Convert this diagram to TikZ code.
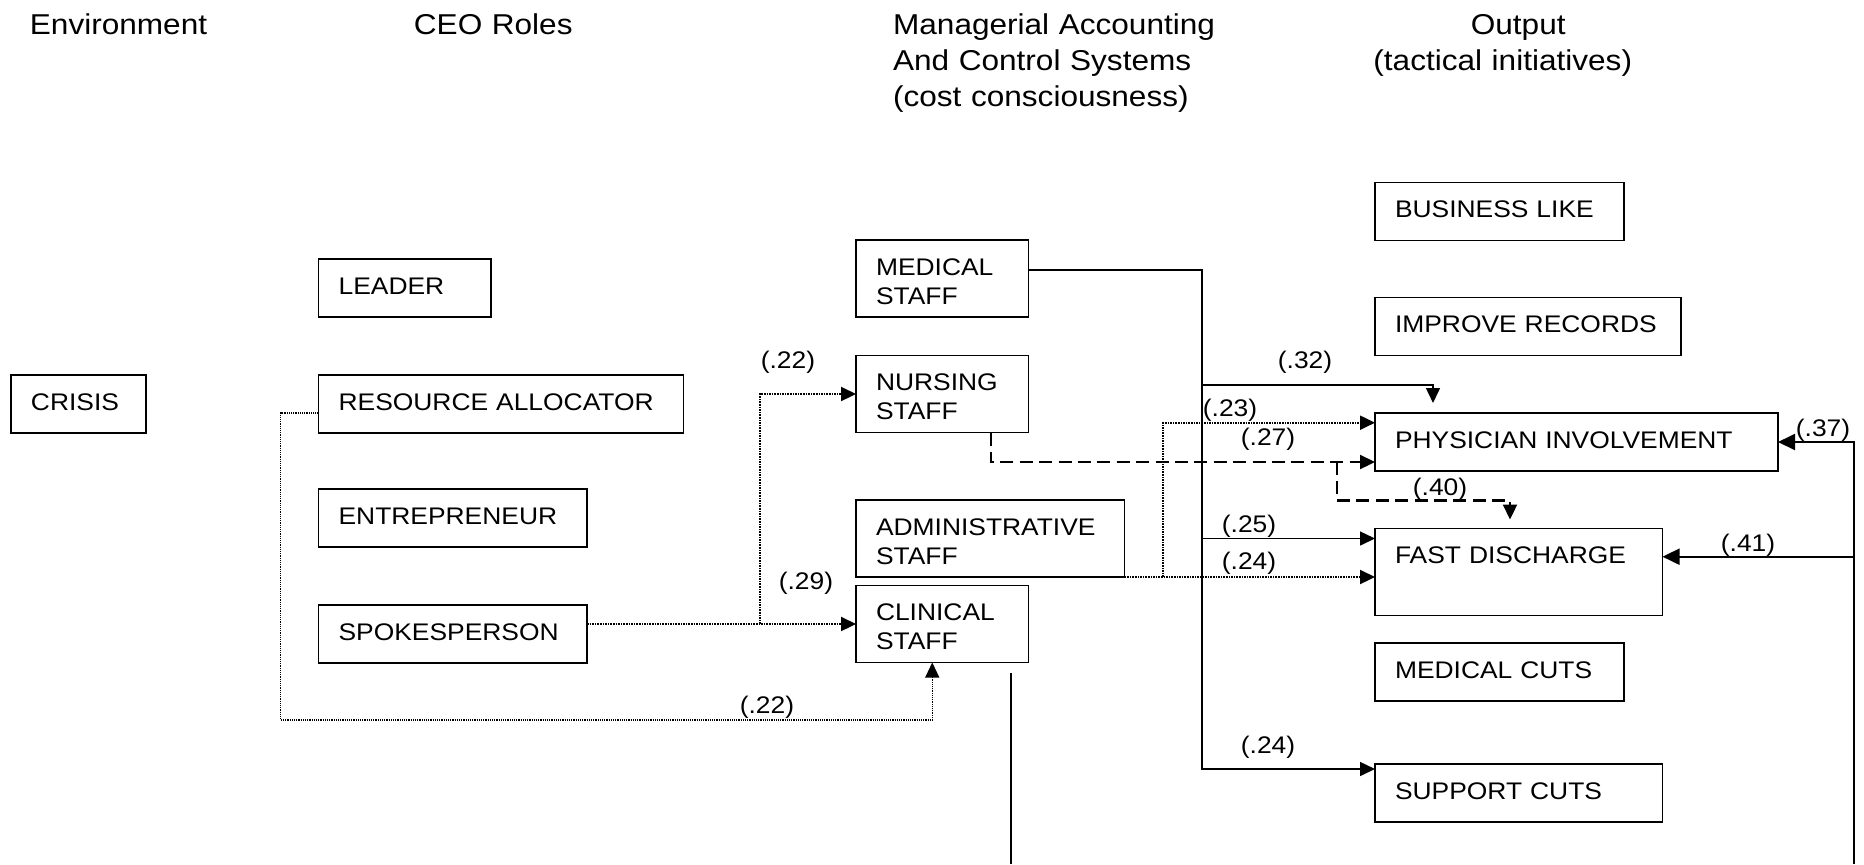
\documentclass[tikz,border=0pt]{standalone}
\usepackage{fontspec}
\setmainfont{Liberation Sans}[FakeStretch=1.1]
\usepackage{tikz}
\usetikzlibrary{arrows.meta}
\tikzset{
  >={Triangle[length=7.5pt,width=7pt]},
  every node/.append style={font=\fontsize{12}{14.5}\selectfont},
}
\tikzset{
  box/.style={draw, line width=0.85pt, anchor=north west, outer sep=0pt,
              inner xsep=10pt, inner ysep=8.5pt, align=left,
              text height=9pt, text depth=3pt},
  twoline/.style={text depth=12.5pt},
  coef/.style={inner sep=0pt}
}

\begin{document}
\begin{tikzpicture}[x=0.5pt, y=-0.5pt,
  heading/.style={anchor=base west, inner sep=0pt, align=left, text width=250pt,
                  font=\fontsize{14.35}{17.9}\selectfont},
  plainlink/.style={line width=0.75pt},
  heavylink/.style={line width=1pt, -{Triangle[length=8.5pt,width=8pt]}},
  dashlink/.style={line width=1.1pt, dash pattern=on 6.5pt off 3.2pt},
  dotlink/.style={line width=1.1pt, dash pattern=on 0.8pt off 0.5pt},
  thindot/.style={line width=0.6pt, dash pattern=on 0.6pt off 0.5pt}
]
\path[use as bounding box, fill=white] (0,0) rectangle (1864,864);

% Column headings
\node[heading] (henv) at (29.5,34.5) {Environment};
\node[heading] (hceo) at (413.5,34.5) {CEO Roles};
\node[heading] (hmacs) at (892.7,34.5) {Managerial Accounting\\And Control Systems\\(cost consciousness)};
\node[heading] (hout) at (1373,34.5) {\hspace*{48.7pt}Output\\(tactical initiatives)};

% Environment and CEO roles
\node[box, text width=47.5pt] (crisis) at (11,375) {CRISIS};
\node[box, text width=66.2pt] (leader) at (318.6,259) {LEADER};
\node[box, text width=162.5pt] (resalloc) at (318.6,375) {RESOURCE ALLOCATOR};
\node[box, text width=114.2pt] (entrep) at (318.6,489) {ENTREPRENEUR};
\node[box, text width=114.2pt] (spokes) at (318.6,605) {SPOKESPERSON};

% Accounting and control systems
\node[box, twoline, text width=66.25pt] (medstaff) at (856,240) {MEDICAL\\STAFF};
\node[box, twoline, text width=66.25pt] (nursstaff) at (856,355.5) {NURSING\\STAFF};
\node[box, twoline, text width=114.3pt] (adminstaff) at (856,500) {ADMINISTRATIVE\\STAFF};
\node[box, twoline, text width=66.25pt] (clinstaff) at (856,585.5) {CLINICAL\\STAFF};

% Outputs
\node[box, text width=104.5pt] (business) at (1375,182.5) {BUSINESS LIKE};
\node[box, text width=133pt] (records) at (1375,297.5) {IMPROVE RECORDS};
\node[box, text width=181.5pt] (physician) at (1375,413) {PHYSICIAN INVOLVEMENT};
\node[box, text depth=17.5pt, text width=123.75pt] (discharge) at (1375,528.5) {FAST DISCHARGE};
\node[box, text width=104.5pt] (medcuts) at (1375,643) {MEDICAL CUTS};
\node[box, text width=123.75pt] (supcuts) at (1375,764) {SUPPORT CUTS};

% Junctions
\coordinate (ralow) at (280.5,720);
\coordinate (j22) at (760,624);
\coordinate (medbend) at (1202,769);
\coordinate (j32) at (1202,385);
\coordinate (j25) at (1202,538.5);
\coordinate (j23) at (1163.3,577);
\coordinate (j40) at (1336.7,462);
\coordinate (j40b) at (1336.7,500.5);
\coordinate (j41) at (1853.5,556.7);
\coordinate (rbot) at (1853.5,864);
\coordinate (cltop) at (1011,673);
\coordinate (clbot) at (1011,864);

% CEO roles to staff
\draw[thindot, ->] ([yshift=-4.5pt]resalloc.west) -| (ralow) -| ([xshift=-5pt]clinstaff.south);
\draw[dotlink, ->] (spokes.east |- clinstaff.west) -- (clinstaff.west);
\draw[dotlink, ->] (j22) |- (nursstaff.west);

% Staff to outputs
\draw[plainlink, ->] ([yshift=4.25pt]medstaff.east) -| (medbend) -- (medbend -| supcuts.west);
\draw[plainlink, ->, shorten >=5pt] (j32) -| ([xshift=29pt]physician.north west);
\draw[plainlink, ->] (j25) -- (j25 -| discharge.west);
\draw[dashlink, ->] ([xshift=67.5pt]nursstaff.south west) |- ([yshift=4.5pt]physician.south west);
\draw[dashlink, ->, shorten >=4.5pt] (j40) -- (j40b) -| ([xshift=67.5pt]discharge.north west);
\draw[dotlink, ->] (adminstaff.south east) -- (adminstaff.south east -| discharge.west);
\draw[dotlink, ->] (j23) |- ([yshift=-4.85pt]physician.north west);
\draw[plainlink] (cltop) -- (clbot);

% Feedback from the right
\draw[heavylink] (rbot) |- (physician.east);
\draw[heavylink] (j41) -- (j41 -| discharge.east);

% Path coefficients
\node[coef] (k22n) at (788,362) {(.22)};
\node[coef] (k29) at (806,583) {(.29)};
\node[coef] (k22c) at (767,707) {(.22)};
\node[coef] (k32) at (1305,362) {(.32)};
\node[coef] (k23) at (1230,410) {(.23)};
\node[coef] (k27) at (1268,439) {(.27)};
\node[coef] (k40) at (1440,489) {(.40)};
\node[coef] (k25) at (1249,526) {(.25)};
\node[coef] (k24d) at (1249,563) {(.24)};
\node[coef] (k24s) at (1268,747) {(.24)};
\node[coef] (k37) at (1823,430) {(.37)};
\node[coef] (k41) at (1748,545) {(.41)};

\end{tikzpicture}
\end{document}
